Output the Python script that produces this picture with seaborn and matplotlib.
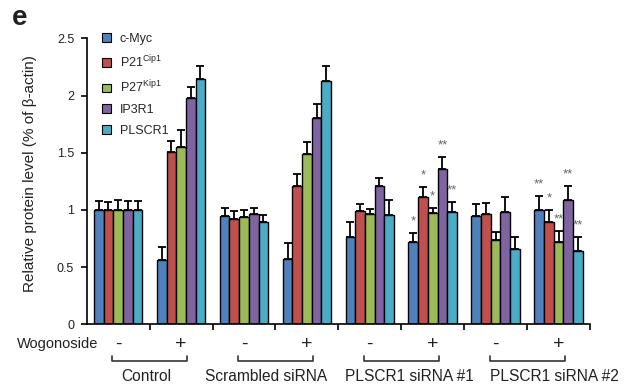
import matplotlib
matplotlib.use('Agg')
import matplotlib.pyplot as plt
import seaborn as sns
import pandas as pd
import numpy as np
from matplotlib.patches import Patch
from matplotlib.container import BarContainer
from matplotlib.transforms import blended_transform_factory

sns.set_theme(style='ticks')
plt.rcParams['font.family'] = ['Liberation Sans', 'DejaVu Sans']
plt.rcParams['mathtext.fontset'] = 'custom'
plt.rcParams['mathtext.rm'] = 'Liberation Sans'
plt.rcParams['mathtext.it'] = 'Liberation Sans:italic'
plt.rcParams['mathtext.bf'] = 'Liberation Sans:bold'

# ---------------- data ----------------
conditions = ['Control -', 'Control +', 'Scrambled -', 'Scrambled +',
              'siRNA1 -', 'siRNA1 +', 'siRNA2 -', 'siRNA2 +']
treatment_signs = ['-', '+', '-', '+', '-', '+', '-', '+']
group_labels = ['Control', 'Scrambled siRNA', 'PLSCR1 siRNA #1', 'PLSCR1 siRNA #2']
proteins = ['c-Myc', 'P21', 'P27', 'IP3R1', 'PLSCR1']
legend_labels = ['c-Myc', r'P21$^{\mathrm{Cip1}}$', r'P27$^{\mathrm{Kip1}}$', 'IP3R1', 'PLSCR1']

cmyc = [1.00, 0.56, 0.95, 0.575, 0.76, 0.72, 0.95, 1.00]
p21 = [1.00, 1.51, 0.92, 1.21, 0.99, 1.11, 0.96, 0.89]
p27 = [1.00, 1.55, 0.94, 1.49, 0.96, 0.97, 0.735, 0.72]
ip3r1 = [1.00, 1.975, 0.96, 1.80, 1.21, 1.355, 0.985, 1.09]
plscr1 = [1.00, 2.14, 0.89, 2.13, 0.955, 0.98, 0.66, 0.64]

cmyc_err = [0.08, 0.12, 0.07, 0.135, 0.13, 0.08, 0.10, 0.12]
p21_err = [0.07, 0.09, 0.07, 0.10, 0.06, 0.09, 0.10, 0.11]
p27_err = [0.09, 0.15, 0.06, 0.10, 0.05, 0.05, 0.075, 0.095]
ip3r1_err = [0.08, 0.095, 0.06, 0.13, 0.07, 0.11, 0.125, 0.12]
plscr1_err = [0.08, 0.12, 0.065, 0.13, 0.135, 0.09, 0.10, 0.12]

cmyc_sig = ['', '', '', '', '', '*', '', '**']
p21_sig = ['', '', '', '', '', '*', '', '*']
p27_sig = ['', '', '', '', '', '*', '', '**']
ip3r1_sig = ['', '', '', '', '', '**', '', '**']
plscr1_sig = ['', '', '', '', '', '**', '', '**']

colors = ['#4F81BD', '#C0504D', '#9BBB59', '#8064A2', '#4BACC6']

values = [cmyc, p21, p27, ip3r1, plscr1]
errors = [cmyc_err, p21_err, p27_err, ip3r1_err, plscr1_err]
sigs = [cmyc_sig, p21_sig, p27_sig, ip3r1_sig, plscr1_sig]

rows = []
for prot, vals in zip(proteins, values):
    for cond, v in zip(conditions, vals):
        rows.append({'protein': prot, 'condition': cond, 'value': v})
df = pd.DataFrame(rows)

# ---------------- figure ----------------
W, H = 637, 388
fig = plt.figure(figsize=(W / 100, H / 100), dpi=100)
ax = fig.add_axes([86.7 / W, 1 - 324.3 / H, (590 - 86.7) / W, (324.3 - 38.3) / H])

sns.barplot(data=df, x='condition', y='value', hue='protein', order=conditions,
            hue_order=proteins, palette=colors, width=0.77, errorbar=None,
            edgecolor='black', linewidth=1.0, saturation=1, legend=False, ax=ax)

bar_containers = [c for c in ax.containers if isinstance(c, BarContainer)]

# error bars and significance stars
for i, cont in enumerate(bar_containers):
    xs = np.array([bar.get_x() + bar.get_width() / 2 for bar in cont])
    hs = np.array([bar.get_height() for bar in cont])
    errs = np.array(errors[i])
    ax.errorbar(xs, hs, yerr=[np.zeros_like(errs), errs], fmt='none', ecolor='black',
                elinewidth=1.3, capsize=2.8, capthick=1.3, zorder=0.5)
    for x, h, e, s in zip(xs, hs, errs, sigs[i]):
        if s:
            ax.text(x, h + e + 0.10, s, ha='center', va='center', fontsize=9.5,
                    color='#666666')

ax.set_xlim(-0.5, 7.5)
ax.set_ylim(0, 2.5)
ax.set_xticks(np.arange(0.5, 8, 1))
ax.set_xticklabels([])
ax.set_yticks([0, 0.5, 1, 1.5, 2, 2.5])
ax.set_yticklabels(['0', '0.5', '1', '1.5', '2', '2.5'])
ax.set_xlabel('')
ax.set_ylabel('Relative protein level (% of β-actin)', fontsize=11, color='#222222')
ax.yaxis.set_label_coords(-0.098, 0.527)
ax.tick_params(axis='both', length=4, width=1.2, color='black', labelsize=9,
               labelcolor='#222222')
ax.tick_params(axis='y', pad=5)
sns.despine(ax=ax)
for sp in ['left', 'bottom']:
    ax.spines[sp].set_linewidth(1.2)
    ax.spines[sp].set_color('black')

# legend
handles = [Patch(facecolor=c, edgecolor='black', linewidth=0.8) for c in colors]
ax.legend(handles, legend_labels, loc='upper left', bbox_to_anchor=(0.031, 1.02),
          frameon=False, fontsize=9, handlelength=0.7, handleheight=0.7,
          handletextpad=0.7, labelspacing=0.7, borderaxespad=0, borderpad=0)

# treatment row, brackets, group labels
trans = blended_transform_factory(ax.transData, fig.transFigure)
for j, s in enumerate(treatment_signs):
    ax.text(j, 1 - 349 / H, s, transform=trans, ha='center', va='baseline',
            fontsize=14, color='#222222')
fig.text(98 / W, 1 - 347.7 / H, 'Wogonoside', ha='right', va='baseline',
         fontsize=10.5, color='#222222')

label_x = [0.44, 2.35, 4.63, 6.93]
for k, lab in enumerate(group_labels):
    x0, x1 = 2 * k - 0.09, 2 * k + 1.1
    ax.plot([x0, x0, x1, x1], [1 - 356 / H, 1 - 360.7 / H, 1 - 360.7 / H, 1 - 356 / H],
            transform=trans, color='#333333', lw=1.2, clip_on=False)
    ax.text(label_x[k], 1 - 381 / H, lab, transform=trans, ha='center', va='baseline',
            fontsize=11.2, color='#222222')

fig.text(12 / W, 1 - 25 / H, 'e', fontsize=20, fontweight='bold', color='#222222')

fig.savefig('out.png', dpi=100)
